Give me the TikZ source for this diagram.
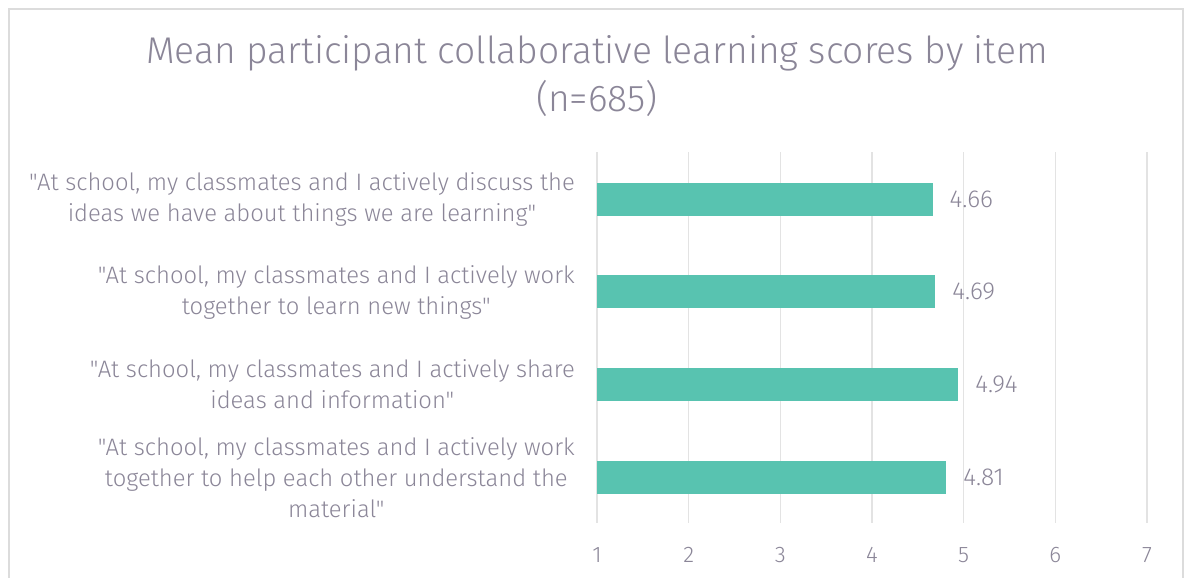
\documentclass[tikz,border=0pt]{standalone}
\usepackage{fontspec}
\setmainfont{Fira Sans}[UprightFont={* Light},Ligatures=TeXOff]
\definecolor{txt}{HTML}{8B8698}
\definecolor{barc}{HTML}{58C3B0}
\definecolor{grid}{HTML}{E3E3E3}
\definecolor{frame}{HTML}{DCDCDC}
\newcommand{\dq}{\symbol{34}}
\begin{document}
\begin{tikzpicture}[x=1pt,y=-1pt,
  gridline/.style={draw=grid,line width=1.6pt},
  bar/.style={fill=barc,draw=none},
  cat/.style={anchor=east,align=center,text=txt,font=\fontsize{23.8}{31}\selectfont,inner sep=0pt},
  val/.style={anchor=west,text=txt,font=\fontsize{24.5}{28}\selectfont,inner sep=0pt},
  tick/.style={anchor=center,text=txt,font=\fontsize{22.5}{26}\selectfont,inner sep=0pt},
  ttl/.style={align=center,text=txt,font=\fontsize{37.2}{48}\selectfont,inner sep=0pt}]
\useasboundingbox (0,0) rectangle (1184,578);
\fill[white] (0,0) rectangle (1184,578);
\draw[frame,line width=1.5pt] (9,578) -- (9,9) -- (1183,9) -- (1183,578);
\node[ttl] (title) at (597,76) {Mean participant collaborative learning scores by item\\(n=685)};
% gridlines
\foreach \v/\n in {1/g1,2/g2,3/g3,4/g4,5/g5,6/g6,7/g7}{
  \coordinate (\n top) at ({597+(\v-1)*91.67},152);
  \coordinate (\n bot) at ({597+(\v-1)*91.67},523);
  \draw[gridline] (\n top) -- (\n bot);
  \node[tick] (t\v) at ({597+(\v-1)*91.67},555) {\v};
}
% bars
\foreach \i/\y/\val in {1/199/4.66,2/291.7/4.69,3/384.5/4.94,4/477.2/4.81}{
  \path[bar] (597,\y-16.5) rectangle ({597+(\val-1)*91.67},\y+16.5);
  \coordinate (e\i) at ({597+(\val-1)*91.67},\y);
  \node[val] (v\i) at ([xshift=17pt]e\i) {\val};
}
\node[cat] (c1) at (575,199.5) {\dq At school, my classmates and I actively discuss the\\ideas we have about things we are learning\dq};
\node[cat] (c2) at (575,292) {\dq At school, my classmates and I actively work\\together to learn new things\dq};
\node[cat] (c3) at (575,384.5) {\dq At school, my classmates and I actively share\\ideas and information\dq};
\node[cat] (c4) at (575,477.5) {\dq At school, my classmates and I actively work\\together to help each other understand the\\material\dq};
\end{tikzpicture}
\end{document}
